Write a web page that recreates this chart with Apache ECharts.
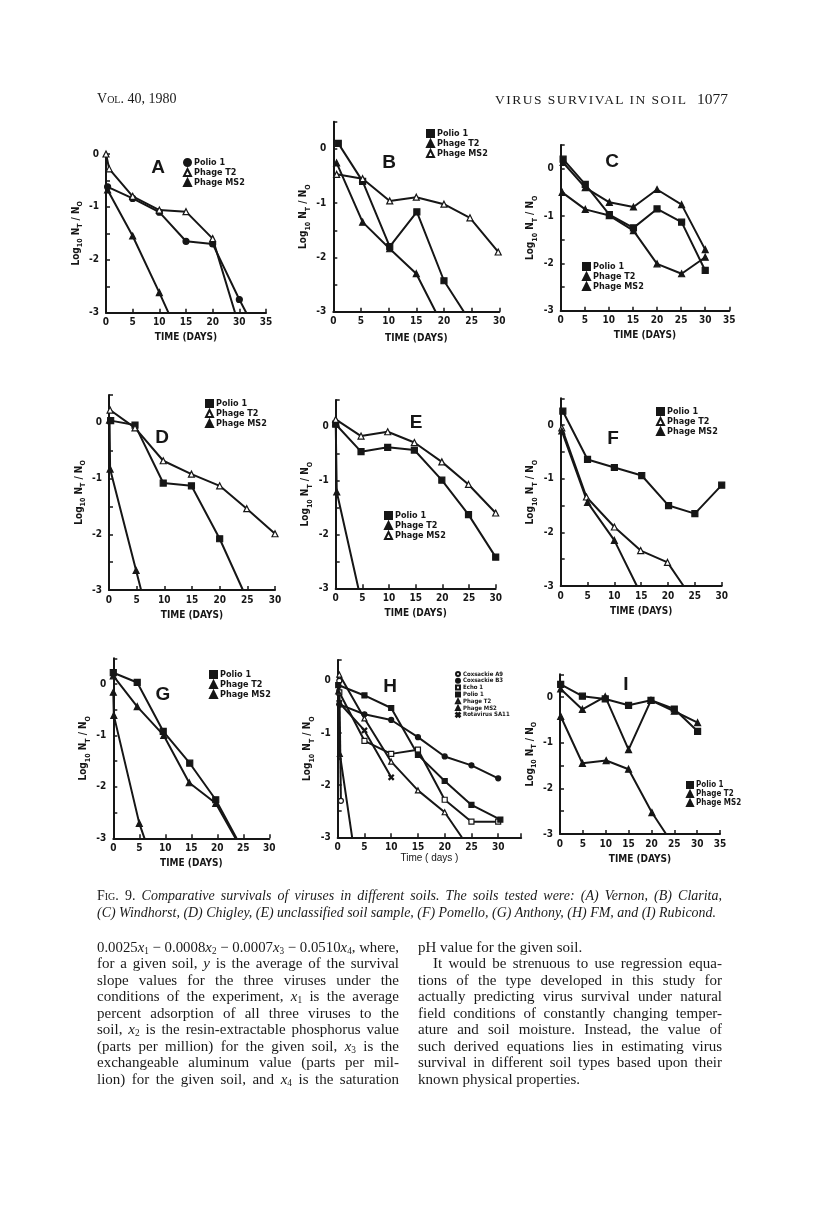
<!DOCTYPE html>
<html>
<head>
<meta charset="utf-8">
<script src="https://cdn.jsdelivr.net/npm/echarts@6/dist/echarts.min.js"></script>
<style>
body { margin: 0; background: #fff; }
#page { position: relative; width: 816px; height: 1208px; overflow: hidden; background: #fff;
  font-family: "Liberation Serif", "DejaVu Serif", serif; color: #1a1a1a; }
.chart { position: absolute; left: 0; top: 0; width: 816px; height: 1208px; }
.ln { position: absolute; white-space: nowrap; display: inline-block; transform-origin: 0 50%; }
.ln sub { font-size: 0.62em; vertical-align: -0.25em; line-height: 0; }
.sc { font-variant: small-caps; }
</style>
</head>
<body>
<div id="page"></div>
<script>
// ---- data (days, log10 Nt/N0) ----
var aPolio = [[0.3, -0.62], [5, -0.84], [10, -1.1], [15, -1.65], [20, -1.7], [25, -2.75], [26.3, -3]];
var aT2 = [[0, 0], [0.6, -0.28], [5, -0.8], [10, -1.06], [15, -1.09], [20, -1.6], [24.2, -3]];
var aMS2 = [[0.3, -0.68], [5, -1.55], [10, -2.62], [11.7, -3]];

var bPolio = [[0.9, 0.1], [5.3, -0.6], [10.2, -1.8], [15.1, -1.16], [20, -2.43], [23.6, -3]];
var bT2 = [[0.6, -0.26], [5.3, -1.35], [10.2, -1.84], [15, -2.3], [18.5, -3]];
var bMS2 = [[0.6, -0.47], [5.3, -0.55], [10.2, -0.96], [15, -0.89], [20, -1.02], [24.7, -1.27], [29.8, -1.9]];

var cPolio = [[0.5, 0.2], [5.1, -0.33], [10.1, -0.97], [15.1, -1.25], [20, -0.85], [25.1, -1.13], [30, -2.15]];
var cT2 = [[0.5, 0.13], [5.1, -0.4], [10.1, -0.71], [15.1, -0.81], [20, -0.44], [25.1, -0.76], [30, -1.71]];
var cMS2 = [[0.3, -0.5], [5.1, -0.86], [10.1, -0.99], [15.1, -1.31], [20, -2.01], [25.1, -2.22], [30, -1.87]];

var dPolio = [[0.3, 0.04], [4.7, -0.04], [9.8, -1.08], [14.9, -1.13], [20, -2.08], [24.2, -3]];
var dT2 = [[0.2, 0.23], [4.7, -0.09], [9.8, -0.68], [14.9, -0.92], [20, -1.13], [24.9, -1.54], [30, -1.99]];
var dMS2 = [[0.1, 0.05], [0.2, -0.83], [4.9, -2.65], [5.8, -3]];

var ePolio = [[0, 0.05], [4.75, -0.46], [9.75, -0.38], [14.75, -0.43], [19.9, -0.99], [24.9, -1.63], [30, -2.42]];
var eT2 = [[0, 0.08], [0.2, -1.21], [4.25, -3]];
var eMS2 = [[0, 0.14], [4.75, -0.17], [9.75, -0.09], [14.75, -0.29], [19.9, -0.65], [24.9, -1.07], [30, -1.6]];

var fPolio = [[0.4, 0.26], [5, -0.64], [10, -0.79], [15.1, -0.94], [20.1, -1.5], [25, -1.65], [30, -1.12]];
var fT2 = [[0.2, -0.05], [4.8, -1.34], [10, -1.9], [14.9, -2.34], [19.9, -2.56], [22.9, -3]];
var fMS2 = [[0.2, -0.11], [5, -1.44], [10, -2.15], [14.2, -3]];

var gPolio = [[0, 0.22], [4.6, 0.03], [9.6, -0.92], [14.7, -1.54], [19.7, -2.25], [23.7, -3]];
var gT2 = [[0, 0.16], [4.6, -0.44], [9.7, -1.0], [14.6, -1.92], [19.7, -2.32], [23.5, -3]];
var gMS2 = [[0, -0.16], [0.1, -0.61], [5, -2.71], [6, -3]];

var hA9 = [[0.3, 0], [0.6, -2.3]];
var hB3 = [[0.3, -0.45], [5, -0.64], [10, -0.75], [15, -1.08], [20, -1.45], [25, -1.62], [30, -1.87]];
var hEcho = [[0.3, -0.22], [5, -1.15], [10, -1.4], [15, -1.32], [20, -2.28], [25, -2.7], [30, -2.7]];
var hPolio = [[0.1, -0.08], [5, -0.28], [10, -0.52], [15, -1.42], [20, -1.92], [25, -2.38], [30.4, -2.66]];
var hT2 = [[0.3, 0.12], [5, -0.72], [10, -1.55], [15, -2.1], [20, -2.52], [23.2, -3]];
var hMS2 = [[0.1, -0.2], [0.4, -1.4], [2.7, -3]];
var hRota = [[0.3, -0.42], [5, -0.95], [10, -1.85]];

var iPolio = [[0.15, 0.28], [4.9, 0.02], [9.9, -0.04], [15, -0.18], [19.9, -0.07], [25, -0.26], [30.1, -0.75]];
var iT2 = [[0.15, 0.18], [4.9, -0.27], [9.9, 0.01], [15, -1.15], [19.9, -0.07], [25, -0.31], [30.1, -0.56]];
var iMS2 = [[0.15, -0.42], [4.9, -1.45], [10.1, -1.39], [15, -1.58], [20.1, -2.53], [23.2, -3]];

// tick labels of panel A as printed (25 and 30 carry "30" and "35")
var aTickText = { 0: '0', 5: '5', 10: '10', 15: '15', 20: '20', 25: '30', 30: '35' };

var INK = '#161616';
var FONT = "'Liberation Sans Narrow','DejaVu Sans Condensed',sans-serif";
var CROSS = 'path://M0,1.5L1.5,0L5,3.5L8.5,0L10,1.5L6.5,5L10,8.5L8.5,10L5,6.5L1.5,10L0,8.5L3.5,5Z';
var MARKS = {
  dot: ['circle', INK], ring: ['circle', '#fff'],
  box: ['rect', INK], openBox: ['rect', '#fff'],
  tri: ['triangle', INK], openTri: ['triangle', '#fff'],
  cross: [CROSS, INK]
};

var page = document.getElementById('page');

function makePanel(p) {
  var el = document.createElement('div');
  el.className = 'chart';
  page.appendChild(el);
  var chart = echarts.init(el);
  var size = p.symbolSize || 6;
  var series = p.series.map(function (s) {
    var m = MARKS[s.mark];
    return {
      name: s.name, type: 'line', animation: false, silent: true,
      data: s.data.map(function (d) { return d[1] <= -3 ? { value: d, symbol: 'none' } : d; }),
      symbol: m[0], symbolSize: size,
      lineStyle: { color: INK, width: 2 },
      itemStyle: { color: m[1], borderColor: INK, borderWidth: 1.2 }
    };
  });
  var legendData = p.series.map(function (s) { return { name: s.name, icon: MARKS[s.mark][0] }; });
  var lf = p.legendFont || 9;
  chart.setOption({
    animation: false,
    grid: { left: p.x0, top: p.y0, width: p.x1 - p.x0, height: p.y1 - p.y0 },
    legend: {
      data: legendData, orient: 'vertical', left: p.legend[0], top: p.legend[1],
      itemWidth: lf - 2, itemHeight: lf - 2, itemGap: p.legendGap || 1, padding: 0,
      selectedMode: false,
      textStyle: { color: INK, fontSize: lf, fontWeight: 'bold', fontFamily: FONT, lineHeight: lf, padding: [0, 0, 0, -2] }
    },
    xAxis: {
      type: 'value', min: 0, max: p.xMax, interval: 5,
      name: p.xName || 'TIME (DAYS)', nameLocation: 'middle', nameGap: p.xNameGap || 20,
      nameTextStyle: p.xName ? { color: INK, fontSize: 10, fontFamily: "'Liberation Sans',sans-serif" }
        : { color: INK, fontSize: 10, fontWeight: 'bold', fontFamily: FONT },
      axisLine: { onZero: false, lineStyle: { color: INK, width: 2 } },
      axisTick: { inside: true, length: 4, lineStyle: { color: INK, width: 1.5 } },
      splitLine: { show: false },
      axisLabel: {
        color: INK, fontSize: 10, fontWeight: 'bold', fontFamily: FONT, margin: 5,
        formatter: p.xTicks ? function (v) { return p.xTicks[v] || ''; } : function (v) { return v <= 30 ? String(v) : (p.xMax === 35 ? '35' : ''); }
      }
    },
    yAxis: {
      type: 'value', min: -3, max: p.yMax, interval: 0.5,
      name: '{a|Log}{s|10}{a| N}{s|T}{a| / N}{s|O}', nameLocation: 'middle', nameGap: p.yNameGap || 22,
      nameRotate: 90,
      nameTextStyle: {
        rich: {
          a: { fontSize: 10, fontWeight: 'bold', fontFamily: FONT, color: INK, lineHeight: 16 },
          s: { fontSize: 7, fontWeight: 'bold', fontFamily: FONT, color: INK, lineHeight: 7, verticalAlign: 'bottom' }
        }
      },
      axisLine: { show: true, onZero: false, lineStyle: { color: INK, width: 2 } },
      axisTick: { show: true, inside: true, length: 4, lineStyle: { color: INK, width: 1.5 } },
      splitLine: { show: false },
      axisLabel: {
        color: INK, fontSize: 10, fontWeight: 'bold', fontFamily: FONT, margin: 7,
        formatter: function (v) { return Math.abs(v - Math.round(v)) < 1e-6 ? String(Math.round(v)) : ''; }
      }
    },
    graphic: [{
      type: 'text', x: p.letter[0], y: p.letter[1],
      style: { text: p.letter[2], font: 'bold 19px "Liberation Sans", sans-serif', fill: INK, align: 'center', verticalAlign: 'middle' }
    }],
    series: series
  });
}

var three = function (pol, t2, ms2, marks) {
  return [
    { name: 'Polio 1', data: pol, mark: marks[0] },
    { name: 'Phage T2', data: t2, mark: marks[1] },
    { name: 'Phage MS2', data: ms2, mark: marks[2] }
  ];
};

makePanel({ x0: 106, x1: 266, y0: 154, y1: 312.7, xMax: 30, yMax: 0, xTicks: aTickText,
  letter: [158, 168, 'A'], legend: [183, 158], series: three(aPolio, aT2, aMS2, ['dot', 'openTri', 'tri']) });
makePanel({ x0: 333.3, x1: 499.3, y0: 121.7, y1: 311.7, xMax: 30, yMax: 0.5, xNameGap: 22,
  letter: [389, 163, 'B'], legend: [426, 129], series: three(bPolio, bT2, bMS2, ['box', 'tri', 'openTri']) });
makePanel({ x0: 560.7, x1: 729.3, y0: 145, y1: 310.7, xMax: 35, yMax: 0.5,
  letter: [612, 162, 'C'], legend: [582, 262], series: three(cPolio, cT2, cMS2, ['box', 'tri', 'tri']) });
makePanel({ x0: 109, x1: 275, y0: 395, y1: 590, xMax: 30, yMax: 0.5,
  letter: [162, 438, 'D'], legend: [205, 399], series: three(dPolio, dT2, dMS2, ['box', 'openTri', 'tri']) });
makePanel({ x0: 335.7, x1: 495.7, y0: 400, y1: 588.3, xMax: 30, yMax: 0.5,
  letter: [416, 423, 'E'], legend: [384, 511], series: three(ePolio, eT2, eMS2, ['box', 'tri', 'openTri']) });
makePanel({ x0: 560.7, x1: 721.7, y0: 398.3, y1: 586, xMax: 30, yMax: 0.5,
  letter: [613, 439, 'F'], legend: [656, 407], series: three(fPolio, fT2, fMS2, ['box', 'openTri', 'tri']) });
makePanel({ x0: 113.3, x1: 269.3, y0: 658.3, y1: 838.3, xMax: 30, yMax: 0.5,
  letter: [163, 695, 'G'], legend: [209, 670], series: three(gPolio, gT2, gMS2, ['box', 'tri', 'tri']) });
makePanel({ x0: 337.7, x1: 521.2, y0: 660, y1: 837.3, xMax: 34.3, yMax: 0.4, symbolSize: 5,
  xName: 'Time ( days )', xNameGap: 14,
  letter: [390, 687, 'H'], legend: [455, 671], legendFont: 6, legendGap: 0.8,
  series: [
    { name: 'Coxsackie A9', data: hA9, mark: 'ring' },
    { name: 'Coxsackie B3', data: hB3, mark: 'dot' },
    { name: 'Echo 1', data: hEcho, mark: 'openBox' },
    { name: 'Polio 1', data: hPolio, mark: 'box' },
    { name: 'Phage T2', data: hT2, mark: 'openTri' },
    { name: 'Phage MS2', data: hMS2, mark: 'tri' },
    { name: 'Rotavirus SA11', data: hRota, mark: 'cross' }
  ] });
makePanel({ x0: 560, x1: 720, y0: 674.3, y1: 834, xMax: 35, yMax: 0.5,
  letter: [626, 685, 'I'], legend: [686, 781], legendFont: 8,
  series: three(iPolio, iT2, iMS2, ['box', 'tri', 'tri']) });

// ---- page text ----
// w: target width; spread by word spacing, or by letter spacing when byLetter is set
function line(html, x, y, w, size, byLetter) {
  var d = document.createElement('div');
  d.className = 'ln';
  d.innerHTML = html;
  d.style.left = x + 'px';
  d.style.top = (y - size * 0.62) + 'px';
  d.style.fontSize = size + 'px';
  page.appendChild(d);
  if (w) {
    var nat = d.getBoundingClientRect().width;
    var txt = d.textContent;
    var gaps = (txt.match(/ /g) || []).length;
    if (nat > w) {
      d.style.transform = 'scaleX(' + (w / nat) + ')';
    } else if (byLetter) {
      d.style.letterSpacing = ((w - nat) / (txt.length - 1)) + 'px';
    } else if (gaps) {
      d.style.wordSpacing = ((w - nat) / gaps) + 'px';
    }
  }
  return d;
}

line('V<span class="sc">ol</span>. 40, 1980', 97, 100, 0, 14);
line('VIRUS SURVIVAL IN SOIL', 495, 100, 191, 13.5, true);
line('1077', 697, 100, 0, 15.5);

var cap1 = '<span class="sc">Fig</span>. 9. <i>Comparative survivals of viruses in different soils. The soils tested were: (A) Vernon, (B) Clarita,</i>';
var cap2 = '<i>(C) Windhorst, (D) Chigley, (E) unclassified soil sample, (F) Pomello, (G) Anthony, (H) FM, and (I) Rubicond.</i>';
line(cap1, 97, 897, 625, 14);
line(cap2, 97, 914, 619, 14);

var X = function (n) { return '<i>x</i><sub>' + n + '</sub>'; };
var leftCol = [
  '0.0025' + X(1) + ' \u2212 0.0008' + X(2) + ' \u2212 0.0007' + X(3) + ' \u2212 0.0510' + X(4) + ', where,',
  'for a given soil, <i>y</i> is the average of the survival',
  'slope values for the three viruses under the',
  'conditions of the experiment, ' + X(1) + ' is the average',
  'percent adsorption of all three viruses to the',
  'soil, ' + X(2) + ' is the resin-extractable phosphorus value',
  '(parts per million) for the given soil, ' + X(3) + ' is the',
  'exchangeable aluminum value (parts per mil-',
  'lion) for the given soil, and ' + X(4) + ' is the saturation'
];
var rightCol = [
  'pH value for the given soil.',
  'It would be strenuous to use regression equa-',
  'tions of the type developed in this study for',
  'actually predicting virus survival under natural',
  'field conditions of constantly changing temper-',
  'ature and soil moisture. Instead, the value of',
  'such derived equations lies in estimating virus',
  'survival in different soil types based upon their',
  'known physical properties.'
];
leftCol.forEach(function (t, i) { line(t, 97, 948 + i * 16.5, 302, 15); });
rightCol.forEach(function (t, i) {
  var last = (i === 0 || i === rightCol.length - 1);
  var x = i === 1 ? 433 : 418;
  line(t, x, 948 + i * 16.5, last ? 0 : 722 - x, 15);
});
</script>
</body>
</html>
